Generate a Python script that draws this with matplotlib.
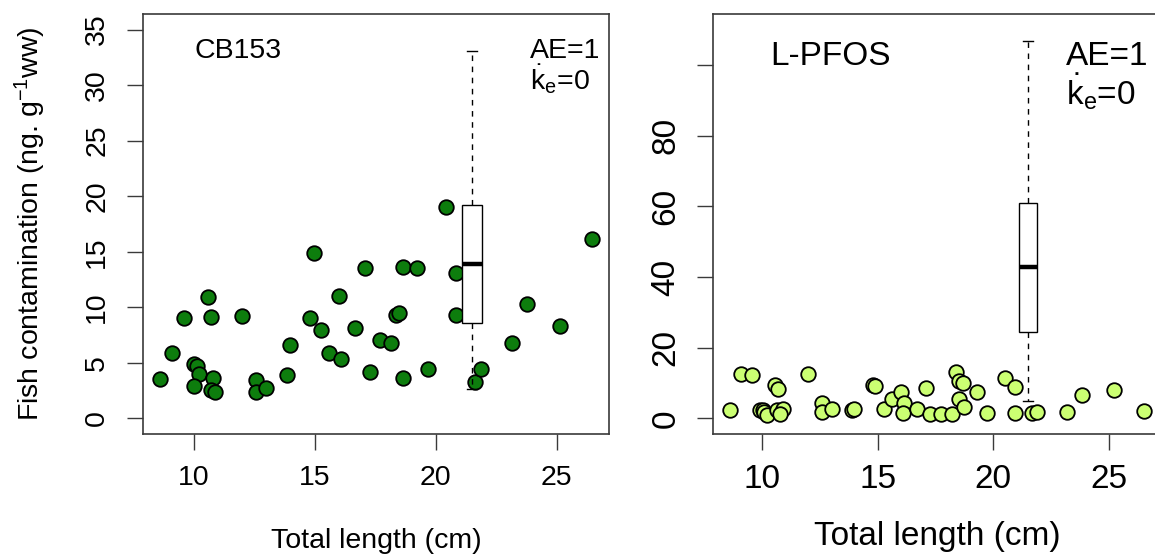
import matplotlib
matplotlib.use("Agg")
import matplotlib.pyplot as plt
import numpy as np

plt.rcParams['font.family'] = ['Liberation Sans', 'DejaVu Sans']
plt.rcParams['mathtext.fontset'] = 'custom'
plt.rcParams['mathtext.rm'] = 'Liberation Sans'
plt.rcParams['mathtext.it'] = 'Liberation Sans:italic'
plt.rcParams['mathtext.bf'] = 'Liberation Sans:bold'

# --- CB153: total length (cm) vs contamination (ng/g ww) ---
cb_length = [8.60, 9.09, 9.60, 9.99, 10.11, 10.22, 9.99, 10.59, 10.68, 10.77,
             10.68, 10.88, 11.98, 12.57, 12.57, 12.98, 13.85, 13.98, 14.78, 14.95,
             15.26, 15.57, 16.00, 16.08, 16.64, 17.06, 17.27, 17.68, 18.16, 18.37,
             18.47, 18.65, 18.65, 19.24, 19.66, 20.44, 20.83, 20.83, 21.62, 21.85,
             23.14, 23.76, 25.14, 26.45]
cb_conc = [3.57, 5.85, 9.06, 4.86, 4.71, 4.02, 2.91, 10.92, 9.12, 3.66,
           2.52, 2.37, 9.18, 3.45, 2.40, 2.76, 3.87, 6.63, 9.06, 14.87,
           7.95, 5.85, 11.00, 5.34, 8.16, 13.56, 4.17, 7.05, 6.75, 9.27,
           9.45, 13.65, 3.66, 13.56, 4.47, 19.05, 13.11, 9.27, 3.27, 4.47,
           6.75, 10.26, 8.31, 16.17]
# model prediction distribution (AE=1, k_e=0)
cb_box = dict(whislo=2.67, q1=8.6, med=13.9, q3=19.2, whishi=33.05)

# --- L-PFOS ---
pfos_length = [8.59, 9.08, 9.58, 9.91, 10.03, 10.10, 10.20, 10.56, 10.68, 10.66,
               10.90, 10.78, 11.97, 12.60, 12.60, 13.03, 13.87, 13.97, 14.80, 14.90,
               15.27, 15.60, 16.02, 16.12, 16.09, 16.71, 17.10, 17.27, 17.72, 18.20,
               18.39, 18.50, 18.70, 18.53, 18.72, 19.30, 19.71, 20.52, 20.93, 20.93,
               21.69, 21.91, 23.20, 23.82, 25.23, 26.54]
pfos_conc = [2.3, 12.5, 12.35, 2.5, 2.3, 1.8, 1.1, 9.6, 8.4, 2.5,
             2.7, 1.3, 12.7, 4.4, 1.9, 2.7, 2.5, 2.8, 9.4, 9.3,
             2.8, 5.4, 7.5, 4.4, 1.4, 2.8, 8.5, 1.3, 1.3, 1.3,
             13.1, 10.7, 10.1, 5.6, 3.2, 7.4, 1.6, 11.5, 8.9, 1.6,
             1.6, 1.8, 1.8, 6.5, 8.0, 2.1]
pfos_box = dict(whislo=5.0, q1=24.4, med=42.7, q3=60.9, whishi=106.9)

box_x = 21.5
x_ticks = [10, 15, 20, 25]

W, H = 1155, 555
fig = plt.figure(figsize=(W / 100, H / 100), dpi=100)

def px_axes(x0, x1, y_top, y_bot):
    return fig.add_axes([x0 / W, 1 - y_bot / H, (x1 - x0) / W, (y_bot - y_top) / H])

ax1 = px_axes(143, 609, 14, 434)
ax2 = px_axes(713, 1161, 14, 434)

spine_col = '#3a3a3a'


def panel(ax, xs, ys, box, color, ylim, yticks, ylabels, fs, name, title_xy, ae_xy, ke_xy,
          xpad, ypad, xlab_y):
    ax.scatter(xs, ys, s=110, c=color, edgecolors='black', linewidths=1.3, zorder=2)
    st = dict(box)
    st['fliers'] = []
    ax.bxp([st], positions=[box_x], widths=0.8, capwidths=0.4, showfliers=False,
           patch_artist=True,
           boxprops=dict(facecolor='white', edgecolor='black', linewidth=1.0),
           whiskerprops=dict(color='black', linewidth=1.0, linestyle=(0, (4, 4))),
           capprops=dict(color='black', linewidth=1.0),
           medianprops=dict(color='black', linewidth=3.2, solid_capstyle='butt'),
           zorder=3)
    xmin, xmax = min(xs), max(xs)
    span = xmax - xmin
    ax.set_xlim(xmin - 0.04 * span, xmax + 0.04 * span)
    ax.set_ylim(ylim[0] - 0.04 * (ylim[1] - ylim[0]), ylim[1] + 0.04 * (ylim[1] - ylim[0]))
    ax.set_xticks(x_ticks)
    ax.set_xticklabels([str(t) for t in x_ticks], fontsize=fs)
    ax.set_yticks(yticks)
    ax.set_yticklabels(ylabels, fontsize=fs, rotation=90, va='center')
    ax.tick_params(direction='out', length=11.5, width=1.0, color=spine_col)
    ax.tick_params(axis='x', pad=xpad)
    ax.tick_params(axis='y', pad=ypad)
    for s in ax.spines.values():
        s.set_color(spine_col)
        s.set_linewidth(1.2)
    ax.set_xlabel('Total length (cm)', fontsize=fs)
    ax.xaxis.label.set_va('center')
    ax.xaxis.set_label_coords(0.5, xlab_y)
    ax.text(title_xy[0], title_xy[1], name, fontsize=fs, ha='left', va='baseline')
    ax.text(ae_xy[0], ae_xy[1], 'AE=1', fontsize=fs, ha='left', va='baseline')
    ax.text(ke_xy[0], ke_xy[1], r'$\dot{\mathrm{k}}_{\mathrm{e}}$=0', fontsize=fs,
            ha='left', va='baseline')


panel(ax1, cb_length, cb_conc, cb_box, '#0d7d0d', (0, 35),
      list(range(0, 36, 5)), [str(v) for v in range(0, 36, 5)], 20.5,
      'CB153', (10.0, 32.45), (23.88, 32.45), (23.88, 29.6), 11, 12, -0.255)
ax1.set_ylabel(r'Fish contamination (ng. g$^{-1}$ww)', fontsize=20.5)
ax1.yaxis.set_label_coords(-0.2425, 0.5)
ax1.yaxis.label.set_va('center')

panel(ax2, pfos_length, pfos_conc, pfos_box, '#cbff72', (0, 110),
      [0, 20, 40, 60, 80, 100], ['0', '20', '40', '60', '80', ''], 24,
      'L-PFOS', (10.37, 99.9), (23.13, 99.9), (23.13, 88.9), 10, 11, -0.243)

fig.savefig('out.png', dpi=100)
